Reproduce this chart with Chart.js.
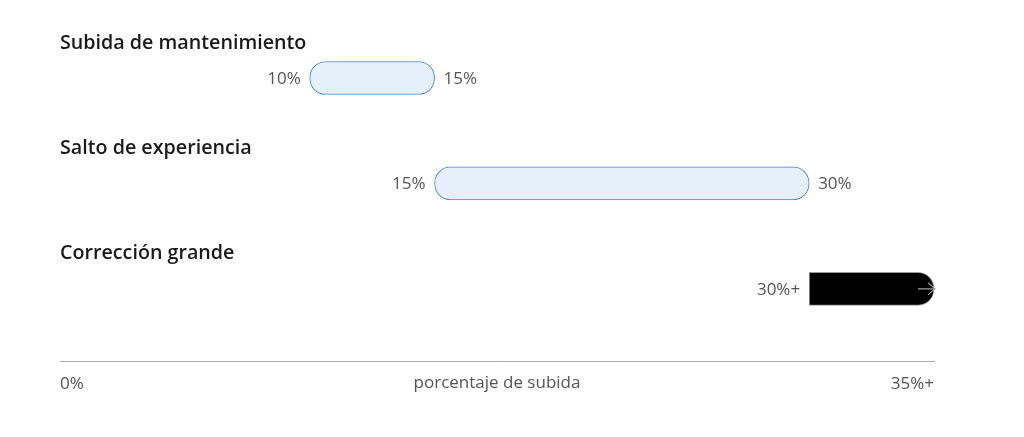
<!DOCTYPE html>
<html>
<head>
<meta charset="utf-8">
<script src="https://cdn.jsdelivr.net/npm/chart.js@4.4.1/dist/chart.umd.min.js"></script>
<style>
    html, body { margin: 0; padding: 0; background: #ffffff; }
    #wrap { position: relative; width: 1024px; height: 437px; }
</style>
</head>
<body>
<div id="wrap"><canvas id="raiseChart"></canvas></div>
<script>
/* ---- datos ---- */
const categories = ['Subida de mantenimiento', 'Salto de experiencia', 'Corrección grande'];
const rangeStart = [10, 15, 30];
const rangeEnd = [15, 30, 35];
const startLabels = ['10%', '15%', '30%+'];
const endLabels = ['15%', '30%', ''];
const axisMin = 0;
const axisMax = 35;
const axisTickLabels = ['0%', '35%+'];
const axisTitle = 'porcentaje de subida';

const FONT = "'Open Sans', 'Noto Sans', sans-serif";

// etiquetas de categoría y de valores dibujadas sobre el lienzo
const labelPlugin = {
    id: 'rangeLabels',
    afterDatasetsDraw(chart) {
        const ctx = chart.ctx;
        const meta = chart.getDatasetMeta(0);
        const area = chart.chartArea;
        ctx.save();
        meta.data.forEach((bar, i) => {
            const left = Math.min(bar.x, bar.base);
            const right = Math.max(bar.x, bar.base);

            // título de la categoría
            ctx.font = `600 19.7px ${FONT}`;
            ctx.fillStyle = '#1a1a1a';
            ctx.textAlign = 'left';
            ctx.textBaseline = 'middle';
            ctx.fillText(categories[i], area.left, bar.y - 35);

            // valores a los lados
            ctx.font = `17px ${FONT}`;
            ctx.fillStyle = '#555555';
            ctx.textAlign = 'right';
            ctx.fillText(startLabels[i], left - 9, bar.y + 1);
            if (endLabels[i]) {
                ctx.textAlign = 'left';
                ctx.fillText(endLabels[i], right + 9, bar.y + 1);
            } else {
                // flecha dentro de la barra abierta
                ctx.strokeStyle = '#a0a0a0';
                ctx.lineWidth = 1.2;
                ctx.beginPath();
                ctx.moveTo(right - 16, bar.y);
                ctx.lineTo(right + 1, bar.y);
                ctx.moveTo(right - 6, bar.y - 6);
                ctx.lineTo(right + 1, bar.y);
                ctx.lineTo(right - 6, bar.y + 6);
                ctx.stroke();
            }
        });

        // título del eje entre las marcas
        const xs = chart.scales.x;
        ctx.font = `17px ${FONT}`;
        ctx.fillStyle = '#555555';
        ctx.textAlign = 'center';
        ctx.textBaseline = 'middle';
        ctx.fillText(axisTitle, (area.left + area.right) / 2, xs.top + 22);
        ctx.restore();
    }
};

const ctx = document.getElementById('raiseChart').getContext('2d');
new Chart(ctx, {
    type: 'bar',
    data: {
        datasets: [{
            data: categories.map((c, i) => ({ x: [rangeStart[i], rangeEnd[i]], y: i })),
            backgroundColor: ['#e6f0fb', '#e6f0fb', '#000000'],
            borderColor: ['#4583cc', '#4583cc', '#9a9a9a'],
            borderWidth: 1,
            borderSkipped: false,
            borderRadius: [
                16,
                16,
                { topLeft: 0, bottomLeft: 0, topRight: 16, bottomRight: 16 }
            ],
            barThickness: 33
        }]
    },
    options: {
        indexAxis: 'y',
        responsive: true,
        maintainAspectRatio: false,
        animation: false,
        layout: { padding: { left: 60, right: 90, top: 20, bottom: 31 } },
        plugins: {
            legend: { display: false },
            tooltip: { enabled: false }
        },
        scales: {
            x: {
                type: 'linear',
                min: axisMin,
                max: axisMax,
                grid: { display: false, drawTicks: false },
                border: { display: true, color: '#aaaaaa', width: 1 },
                afterBuildTicks(scale) {
                    scale.ticks = [{ value: axisMin }, { value: axisMax }];
                },
                ticks: {
                    align: 'inner',
                    padding: 12,
                    color: '#555555',
                    font: { family: FONT, size: 17 },
                    maxRotation: 0,
                    callback: (v, idx) => axisTickLabels[idx]
                }
            },
            y: {
                type: 'linear',
                display: false,
                reverse: true,
                offset: false,
                min: -0.55,
                max: 2.69
            }
        }
    },
    plugins: [labelPlugin]
});
</script>
</body>
</html>
